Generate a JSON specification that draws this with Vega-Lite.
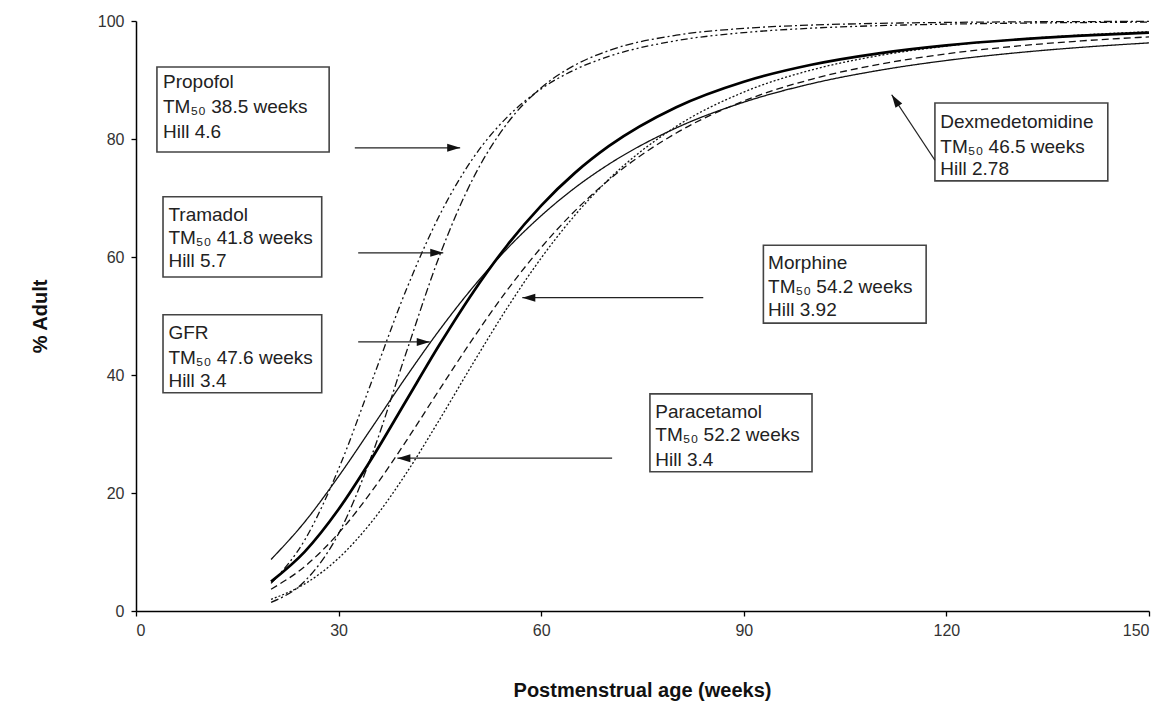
{
  "$schema": "https://vega.github.io/schema/vega-lite/v6.json",
  "autosize": "none",
  "width": 1013,
  "height": 590,
  "padding": {"left": 136, "top": 21, "right": 20, "bottom": 96},
  "background": "white",
  "config": {
    "view": {"stroke": null},
    "font": "Liberation Sans",
    "axis": {"grid": false, "domainColor": "#000", "domainWidth": 1.5, "tickColor": "#000", "tickWidth": 1.3, "tickSize": 5, "labelColor": "#333", "labelFont": "Liberation Sans", "labelFontSize": 16, "titleFont": "Liberation Sans", "titleFontWeight": "bold", "titleFontSize": 20, "titleColor": "#111"}
  },
  "datasets": {
    "curves": [
      {"drug":"Propofol","x":20,"y":4.68},{"drug":"Propofol","x":25,"y":12.06},{"drug":"Propofol","x":30,"y":24.09},{"drug":"Propofol","x":35,"y":39.2},{"drug":"Propofol","x":40,"y":54.4},{"drug":"Propofol","x":45,"y":67.2},{"drug":"Propofol","x":50,"y":76.9},{"drug":"Propofol","x":55,"y":83.75},{"drug":"Propofol","x":60,"y":88.5},{"drug":"Propofol","x":65,"y":91.75},{"drug":"Propofol","x":70,"y":93.99},{"drug":"Propofol","x":80,"y":96.66},{"drug":"Propofol","x":90,"y":98.03},{"drug":"Propofol","x":100,"y":98.78},{"drug":"Propofol","x":110,"y":99.21},{"drug":"Propofol","x":120,"y":99.47},{"drug":"Propofol","x":130,"y":99.63},{"drug":"Propofol","x":140,"y":99.74},{"drug":"Propofol","x":150,"y":99.81},
      {"drug":"Tramadol","x":20,"y":1.47},{"drug":"Tramadol","x":25,"y":5.07},{"drug":"Tramadol","x":30,"y":13.11},{"drug":"Tramadol","x":35,"y":26.66},{"drug":"Tramadol","x":40,"y":43.76},{"drug":"Tramadol","x":45,"y":60.37},{"drug":"Tramadol","x":50,"y":73.52},{"drug":"Tramadol","x":55,"y":82.69},{"drug":"Tramadol","x":60,"y":88.69},{"drug":"Tramadol","x":65,"y":92.53},{"drug":"Tramadol","x":70,"y":94.98},{"drug":"Tramadol","x":80,"y":97.59},{"drug":"Tramadol","x":90,"y":98.75},{"drug":"Tramadol","x":100,"y":99.31},{"drug":"Tramadol","x":110,"y":99.6},{"drug":"Tramadol","x":120,"y":99.76},{"drug":"Tramadol","x":130,"y":99.85},{"drug":"Tramadol","x":140,"y":99.9},{"drug":"Tramadol","x":150,"y":99.93},
      {"drug":"GFR","x":20,"y":4.98},{"drug":"GFR","x":25,"y":10.07},{"drug":"GFR","x":30,"y":17.24},{"drug":"GFR","x":35,"y":26.01},{"drug":"GFR","x":40,"y":35.64},{"drug":"GFR","x":45,"y":45.25},{"drug":"GFR","x":50,"y":54.17},{"drug":"GFR","x":55,"y":62.04},{"drug":"GFR","x":60,"y":68.72},{"drug":"GFR","x":65,"y":74.26},{"drug":"GFR","x":70,"y":78.78},{"drug":"GFR","x":80,"y":85.39},{"drug":"GFR","x":90,"y":89.71},{"drug":"GFR","x":100,"y":92.58},{"drug":"GFR","x":110,"y":94.52},{"drug":"GFR","x":120,"y":95.87},{"drug":"GFR","x":130,"y":96.82},{"drug":"GFR","x":140,"y":97.51},{"drug":"GFR","x":150,"y":98.02},
      {"drug":"Dexmedetomidine","x":20,"y":8.74},{"drug":"Dexmedetomidine","x":25,"y":15.12},{"drug":"Dexmedetomidine","x":30,"y":22.82},{"drug":"Dexmedetomidine","x":35,"y":31.21},{"drug":"Dexmedetomidine","x":40,"y":39.68},{"drug":"Dexmedetomidine","x":45,"y":47.72},{"drug":"Dexmedetomidine","x":50,"y":55.02},{"drug":"Dexmedetomidine","x":55,"y":61.46},{"drug":"Dexmedetomidine","x":60,"y":67.0},{"drug":"Dexmedetomidine","x":65,"y":71.73},{"drug":"Dexmedetomidine","x":70,"y":75.71},{"drug":"Dexmedetomidine","x":80,"y":81.88},{"drug":"Dexmedetomidine","x":90,"y":86.24},{"drug":"Dexmedetomidine","x":100,"y":89.37},{"drug":"Dexmedetomidine","x":110,"y":91.63},{"drug":"Dexmedetomidine","x":120,"y":93.31},{"drug":"Dexmedetomidine","x":130,"y":94.57},{"drug":"Dexmedetomidine","x":140,"y":95.54},{"drug":"Dexmedetomidine","x":150,"y":96.29},
      {"drug":"Morphine","x":20,"y":1.97},{"drug":"Morphine","x":25,"y":4.6},{"drug":"Morphine","x":30,"y":8.96},{"drug":"Morphine","x":35,"y":15.26},{"drug":"Morphine","x":40,"y":23.31},{"drug":"Morphine","x":45,"y":32.54},{"drug":"Morphine","x":50,"y":42.16},{"drug":"Morphine","x":55,"y":51.43},{"drug":"Morphine","x":60,"y":59.83},{"drug":"Morphine","x":65,"y":67.09},{"drug":"Morphine","x":70,"y":73.16},{"drug":"Morphine","x":80,"y":82.14},{"drug":"Morphine","x":90,"y":87.95},{"drug":"Morphine","x":100,"y":91.69},{"drug":"Morphine","x":110,"y":94.13},{"drug":"Morphine","x":120,"y":95.75},{"drug":"Morphine","x":130,"y":96.86},{"drug":"Morphine","x":140,"y":97.63},{"drug":"Morphine","x":150,"y":98.18},
      {"drug":"Paracetamol","x":20,"y":3.69},{"drug":"Paracetamol","x":25,"y":7.56},{"drug":"Paracetamol","x":30,"y":13.2},{"drug":"Paracetamol","x":35,"y":20.44},{"drug":"Paracetamol","x":40,"y":28.8},{"drug":"Paracetamol","x":45,"y":37.65},{"drug":"Paracetamol","x":50,"y":46.34},{"drug":"Paracetamol","x":55,"y":54.43},{"drug":"Paracetamol","x":60,"y":61.62},{"drug":"Paracetamol","x":65,"y":67.82},{"drug":"Paracetamol","x":70,"y":73.06},{"drug":"Paracetamol","x":80,"y":81.02},{"drug":"Paracetamol","x":90,"y":86.44},{"drug":"Paracetamol","x":100,"y":90.12},{"drug":"Paracetamol","x":110,"y":92.65},{"drug":"Paracetamol","x":120,"y":94.43},{"drug":"Paracetamol","x":130,"y":95.7},{"drug":"Paracetamol","x":140,"y":96.63},{"drug":"Paracetamol","x":150,"y":97.31}
    ],
    "boxes": [
      {"drug":"Propofol","x":3.1,"x2":28.6,"y":92.2,"y2":77.8},
      {"drug":"Tramadol","x":4.0,"x2":27.5,"y":70.2,"y2":56.6},
      {"drug":"GFR","x":4.0,"x2":27.5,"y":50.2,"y2":37.0},
      {"drug":"Paracetamol","x":76.1,"x2":100.1,"y":36.8,"y2":23.6},
      {"drug":"Morphine","x":92.9,"x2":117.0,"y":62.0,"y2":48.8},
      {"drug":"Dexmedetomidine","x":118.3,"x2":143.9,"y":86.1,"y2":72.9}
    ],
    "labels": [
      {"x":4.0,"y":89.7,"text":"Propofol"},{"x":4.0,"y":85.4,"text":"TM₅₀ 38.5 weeks"},{"x":4.0,"y":81.2,"text":"Hill 4.6"},
      {"x":4.8,"y":67.1,"text":"Tramadol"},{"x":4.8,"y":63.2,"text":"TM₅₀ 41.8 weeks"},{"x":4.8,"y":59.3,"text":"Hill 5.7"},
      {"x":4.8,"y":47.1,"text":"GFR"},{"x":4.8,"y":42.9,"text":"TM₅₀ 47.6 weeks"},{"x":4.8,"y":39.0,"text":"Hill 3.4"},
      {"x":76.9,"y":33.7,"text":"Paracetamol"},{"x":76.9,"y":29.8,"text":"TM₅₀ 52.2 weeks"},{"x":76.9,"y":25.6,"text":"Hill 3.4"},
      {"x":93.6,"y":59.0,"text":"Morphine"},{"x":93.6,"y":54.9,"text":"TM₅₀ 54.2 weeks"},{"x":93.6,"y":51.0,"text":"Hill 3.92"},
      {"x":119.1,"y":82.9,"text":"Dexmedetomidine"},{"x":119.1,"y":78.6,"text":"TM₅₀ 46.5 weeks"},{"x":119.1,"y":74.9,"text":"Hill 2.78"}
    ],
    "arrows": [
      {"drug":"Propofol","dir":"right","x":32.4,"y":78.5,"x2":48.0,"y2":78.5},
      {"drug":"Tramadol","dir":"right","x":32.9,"y":60.7,"x2":45.5,"y2":60.7},
      {"drug":"GFR","dir":"right","x":32.9,"y":45.6,"x2":43.5,"y2":45.6},
      {"drug":"Paracetamol","dir":"left","x":70.5,"y":25.9,"x2":38.7,"y2":25.9},
      {"drug":"Morphine","dir":"left","x":84.0,"y":53.1,"x2":57.2,"y2":53.1},
      {"drug":"Dexmedetomidine","dir":"diag","x":118.3,"y":76.4,"x2":111.9,"y2":87.5}
    ]
  },
  "layer": [
    {
      "data": {"name": "curves"},
      "transform": [{"filter": "datum.drug !== 'GFR'"}],
      "mark": {"type": "line", "interpolate": "monotone", "color": "#111", "strokeWidth": 1.3},
      "encoding": {
        "x": {"field": "x", "type": "quantitative", "scale": {"domain": [0, 150], "nice": false}, "axis": {"values": [0, 30, 60, 90, 120, 150], "title": "Postmenstrual age (weeks)", "titleX": 506, "titleY": 79, "titleBaseline": "middle", "labelPadding": 6, "labelFontSize": 16}},
        "y": {"field": "y", "type": "quantitative", "scale": {"domain": [0, 100], "nice": false}, "axis": {"values": [0, 20, 40, 60, 80, 100], "title": "% Adult", "titleX": -96, "titleY": 295, "titleAlign": "center", "titleBaseline": "middle", "labelPadding": 7, "labelFontSize": 16}},
        "detail": {"field": "drug"},
        "strokeDash": {"field": "drug", "type": "nominal", "legend": null, "scale": {"domain": ["Propofol", "Tramadol", "Dexmedetomidine", "Morphine", "Paracetamol"], "range": [[7, 3, 2, 3, 2, 3], [8, 3, 2, 3], [1, 0], [2, 2], [7, 4]]}}
      }
    },
    {
      "data": {"name": "curves"},
      "transform": [{"filter": "datum.drug === 'GFR'"}],
      "mark": {"type": "line", "interpolate": "monotone", "color": "#000", "strokeWidth": 2.7},
      "encoding": {
        "x": {"field": "x", "type": "quantitative"},
        "y": {"field": "y", "type": "quantitative"}
      }
    },
    {
      "data": {"name": "boxes"},
      "mark": {"type": "rect", "fill": "white", "stroke": "#444", "strokeWidth": 1.6},
      "encoding": {
        "x": {"field": "x", "type": "quantitative"},
        "x2": {"field": "x2"},
        "y": {"field": "y", "type": "quantitative"},
        "y2": {"field": "y2"}
      }
    },
    {
      "data": {"name": "labels"},
      "mark": {"type": "text", "align": "left", "baseline": "middle", "fontSize": 19, "font": "Liberation Sans", "color": "#222"},
      "encoding": {
        "x": {"field": "x", "type": "quantitative"},
        "y": {"field": "y", "type": "quantitative"},
        "text": {"field": "text"}
      }
    },
    {
      "data": {"name": "arrows"},
      "mark": {"type": "rule", "color": "#222", "strokeWidth": 1.3},
      "encoding": {
        "x": {"field": "x", "type": "quantitative"},
        "y": {"field": "y", "type": "quantitative"},
        "x2": {"field": "x2"},
        "y2": {"field": "y2"}
      }
    },
    {
      "data": {"name": "arrows"},
      "transform": [{"filter": "datum.dir === 'right'"}],
      "mark": {"type": "point", "shape": "M0,0L-1.3,-0.4L-1.3,0.4Z", "size": 400, "filled": true, "color": "#111", "opacity": 1},
      "encoding": {
        "x": {"field": "x2", "type": "quantitative"},
        "y": {"field": "y2", "type": "quantitative"}
      }
    },
    {
      "data": {"name": "arrows"},
      "transform": [{"filter": "datum.dir === 'left'"}],
      "mark": {"type": "point", "shape": "M0,0L1.3,-0.4L1.3,0.4Z", "size": 400, "filled": true, "color": "#111", "opacity": 1},
      "encoding": {
        "x": {"field": "x2", "type": "quantitative"},
        "y": {"field": "y2", "type": "quantitative"}
      }
    },
    {
      "data": {"name": "arrows"},
      "transform": [{"filter": "datum.dir === 'diag'"}],
      "mark": {"type": "point", "shape": "M0,0L-1.3,-0.4L-1.3,0.4Z", "size": 400, "filled": true, "color": "#111", "opacity": 1, "angle": 236.5},
      "encoding": {
        "x": {"field": "x2", "type": "quantitative"},
        "y": {"field": "y2", "type": "quantitative"}
      }
    }
  ]
}
